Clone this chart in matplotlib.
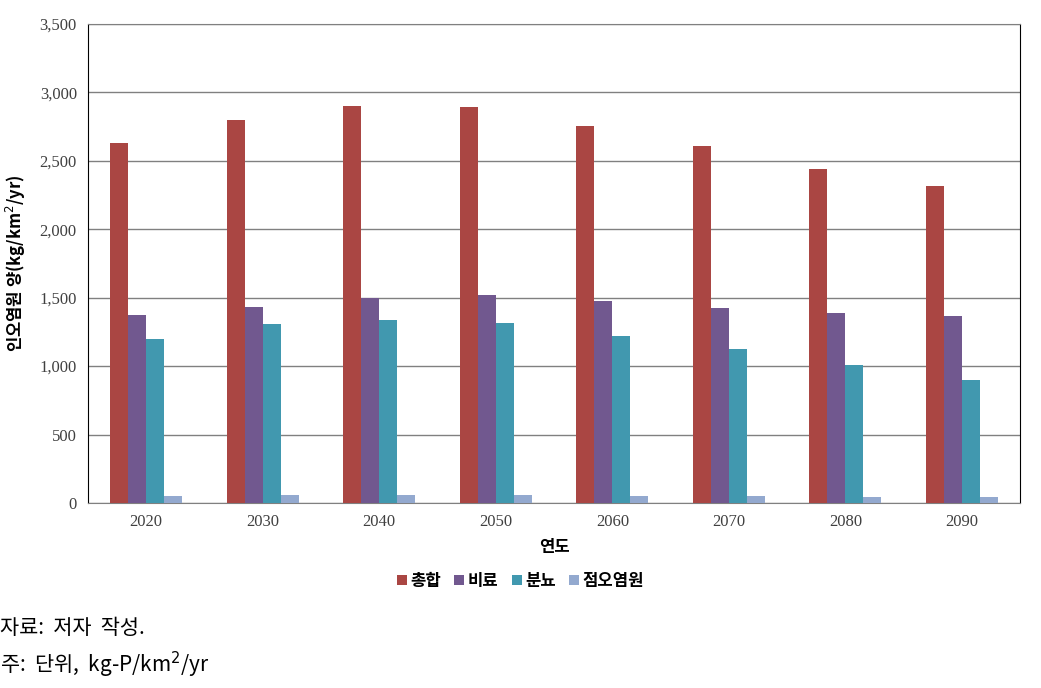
import numpy as np
import matplotlib.pyplot as plt

plt.rcParams['font.family'] = ['Noto Sans CJK KR', 'DejaVu Sans']

# data
years = ['2020', '2030', '2040', '2050', '2060', '2070', '2080', '2090']
series = ['총합', '비료', '분뇨', '점오염원']
total = [2630, 2800, 2900, 2893, 2755, 2608, 2440, 2316]
fert = [1373, 1432, 1497, 1519, 1475, 1424, 1388, 1366]
manure = [1198, 1308, 1337, 1315, 1220, 1125, 1008, 898]
point = [50, 55, 55, 55, 50, 50, 40, 40]
colors = ['#AA4643', '#71588F', '#4198AF', '#93A9CF']

fig = plt.figure(figsize=(10.41, 6.88), dpi=100)
ax = fig.add_axes([0.0845, 0.269, 0.8955, 0.696])

x = np.arange(len(years))
w = 0.154
for i, (name, vals) in enumerate(zip(series, [total, fert, manure, point])):
    ax.bar(x + (i - 1.5) * w, vals, width=w, color=colors[i], label=name, zorder=3)

ax.set_xlim(-0.5, len(years) - 0.5)
ax.set_ylim(0, 3500)
ax.set_yticks(np.arange(0, 3501, 500))
ax.set_yticklabels([f'{v:,}' for v in range(0, 3501, 500)],
                   family=['Liberation Serif'], fontsize=12, color='#404040')
ax.set_xticks(x)
ax.set_xticklabels(years, family=['Liberation Serif'], fontsize=12, color='#404040')
ax.tick_params(length=0, pad=8)
ax.grid(axis='y', color='#808080', linewidth=1, zorder=0)

for s in ['top', 'bottom']:
    ax.spines[s].set_color('#808080')
for s in ['left', 'right']:
    ax.spines[s].set_color('black')

ax.set_xlabel('연도', fontsize=12, fontweight='bold', labelpad=6)
ax.set_ylabel('인오염원 양(kg/km$^2$/yr)', fontsize=12, fontweight='bold', labelpad=8)

h, l = ax.get_legend_handles_labels()
fig.legend(h, l, loc='center', bbox_to_anchor=(0.5, 1 - 581 / 688), ncol=4, frameon=False,
           handlelength=0.6, handleheight=0.6, handletextpad=0.2,
           columnspacing=0.8, prop={'weight': 'bold', 'size': 12})

fig.text(0.0, 1 - 628 / 688, '자료:  저자  작성.', fontsize=15, va='center', ha='left')
fig.text(0.0, 1 - 665 / 688, '주:  단위,  kg-P/km$^2$/yr', fontsize=15, va='center', ha='left')

fig.savefig('out.png', dpi=100)
